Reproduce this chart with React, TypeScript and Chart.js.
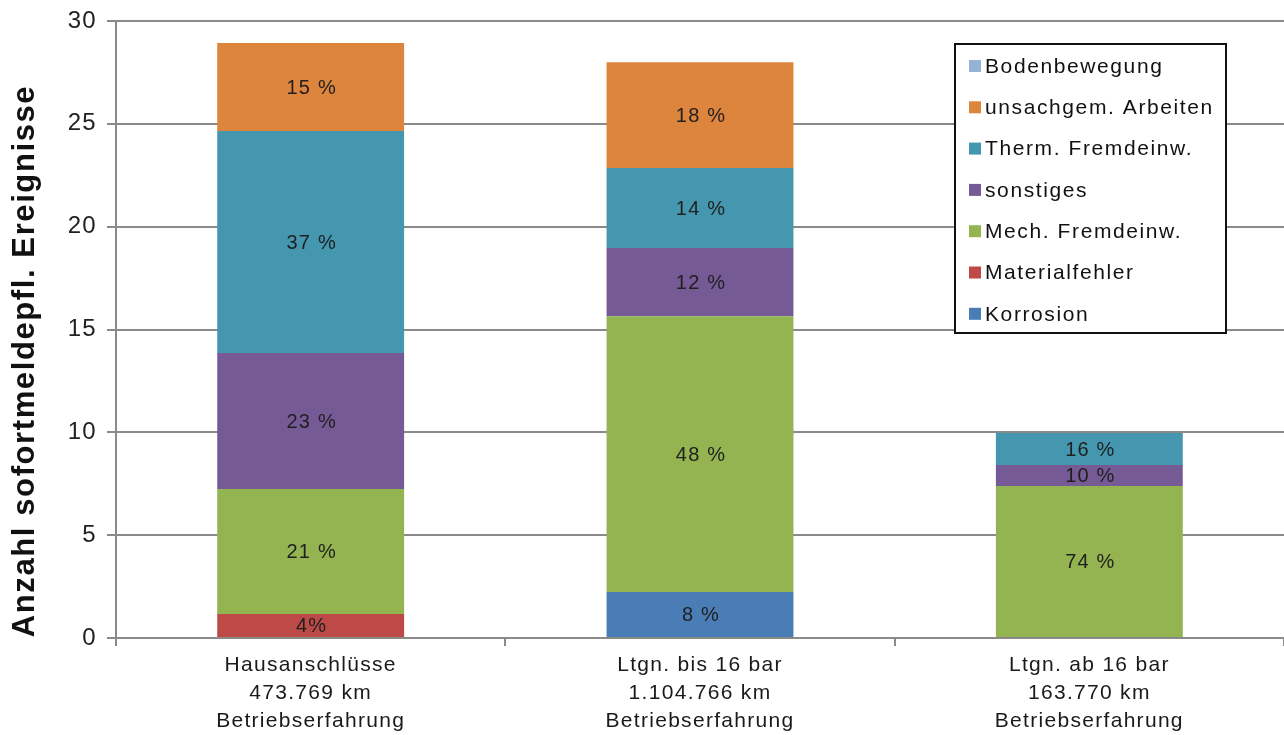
import React, { useEffect, useRef } from "react";
import { Chart, registerables } from "chart.js";

Chart.register(...registerables);

const categories: string[][] = [
  ["Hausanschlüsse", "473.769 km", "Betriebserfahrung"],
  ["Ltgn. bis 16 bar", "1.104.766 km", "Betriebserfahrung"],
  ["Ltgn. ab 16 bar", "163.770 km", "Betriebserfahrung"],
];

const korrosion = [0, 2.24, 0];
const materialfehler = [1.17, 0, 0];
const mechFremdeinw = [6.07, 13.41, 7.39];
const sonstiges = [6.62, 3.31, 1.02];
const thermFremdeinw = [10.79, 3.89, 1.56];
const unsachgemArbeiten = [4.28, 5.15, 0];
const bodenbewegung = [0, 0, 0];

const korrosionLabels = ["", "8 %", ""];
const materialfehlerLabels = ["4%", "", ""];
const mechLabels = ["21 %", "48 %", "74 %"];
const sonstigesLabels = ["23 %", "12 %", "10 %"];
const thermLabels = ["37 %", "14 %", "16 %"];
const unsachgemLabels = ["15 %", "18 %", ""];
const bodenLabels = ["", "", ""];

const yTicks = [0, 5, 10, 15, 20, 25, 30];
const yTitle = "Anzahl sofortmeldepfl. Ereignisse";

const FONT = "'Liberation Sans', Arial, sans-serif";

const spacingPlugin = {
  id: "spacing",
  beforeDraw(chart: any) {
    (chart.ctx as any).letterSpacing = "1.3px";
  },
};

const segmentLabelPlugin = {
  id: "segmentLabels",
  afterDatasetsDraw(chart: any) {
    const ctx = chart.ctx;
    ctx.save();
    (ctx as any).letterSpacing = "1.2px";
    ctx.font = `20px ${FONT}`;
    ctx.fillStyle = "#1f1f1f";
    ctx.textAlign = "center";
    ctx.textBaseline = "middle";
    chart.data.datasets.forEach((ds: any, i: number) => {
      const meta = chart.getDatasetMeta(i);
      meta.data.forEach((el: any, j: number) => {
        const lbl = ds.segLabels ? ds.segLabels[j] : "";
        if (!lbl) return;
        const y = (el.y + el.base) / 2;
        ctx.fillText(lbl, el.x + 1, y + 1);
      });
    });
    ctx.restore();
  },
};

const legendPlugin = {
  id: "boxLegend",
  afterDraw(chart: any) {
    const ctx = chart.ctx;
    const x0 = 955;
    const y0 = 44;
    const w = 271;
    const h = 289;
    ctx.save();
    ctx.fillStyle = "#ffffff";
    ctx.fillRect(x0, y0, w, h);
    ctx.strokeStyle = "#111111";
    ctx.lineWidth = 2;
    ctx.strokeRect(x0, y0, w, h);
    const items = chart.data.datasets.slice().reverse();
    (ctx as any).letterSpacing = "1.6px";
    ctx.font = `21px ${FONT}`;
    ctx.textBaseline = "middle";
    ctx.textAlign = "left";
    items.forEach((ds: any, k: number) => {
      const cy = y0 + 22 + k * 41.3;
      ctx.fillStyle = ds.backgroundColor;
      ctx.fillRect(x0 + 14, cy - 6, 12, 12);
      ctx.fillStyle = "#111111";
      ctx.fillText(ds.label, x0 + 30, cy + 1);
    });
    ctx.restore();
  },
};

const yTitlePlugin = {
  id: "yTitle",
  afterDraw(chart: any) {
    const ctx = chart.ctx;
    ctx.save();
    (ctx as any).letterSpacing = "1.6px";
    ctx.translate(25, 361);
    ctx.rotate(-Math.PI / 2);
    ctx.font = `bold 31px ${FONT}`;
    ctx.fillStyle = "#111111";
    ctx.textAlign = "center";
    ctx.textBaseline = "middle";
    ctx.fillText(yTitle, 0, 0);
    ctx.restore();
  },
};

export default function App() {
  const canvasRef = useRef<HTMLCanvasElement | null>(null);

  useEffect(() => {
    document.body.style.margin = "0";
    const canvas = canvasRef.current;
    if (!canvas) return;
    const mk = (label: string, data: number[], color: string, segLabels: string[]) => ({
      label,
      data,
      backgroundColor: color,
      borderWidth: 0,
      segLabels,
      categoryPercentage: 1,
      barPercentage: 0.48,
    });
    const chart = new Chart(canvas, {
      type: "bar",
      data: {
        labels: categories,
        datasets: [
          mk("Korrosion", korrosion, "#4a7db6", korrosionLabels),
          mk("Materialfehler", materialfehler, "#bd4a47", materialfehlerLabels),
          mk("Mech. Fremdeinw.", mechFremdeinw, "#93b451", mechLabels),
          mk("sonstiges", sonstiges, "#765a95", sonstigesLabels),
          mk("Therm. Fremdeinw.", thermFremdeinw, "#4497af", thermLabels),
          mk("unsachgem. Arbeiten", unsachgemArbeiten, "#dd853d", unsachgemLabels),
          mk("Bodenbewegung", bodenbewegung, "#95b3d7", bodenLabels),
        ] as any,
      },
      options: {
        animation: false,
        responsive: true,
        maintainAspectRatio: false,
        layout: { padding: { top: 21, right: 0, left: 0, bottom: 0 } },
        plugins: {
          legend: { display: false },
          tooltip: { enabled: false },
        },
        scales: {
          x: {
            stacked: true,
            grid: {
              display: true,
              offset: true,
              drawOnChartArea: false,
              drawTicks: true,
              tickLength: 8,
              color: "#8a8a8a",
              lineWidth: 2,
            },
            border: { display: true, color: "#8a8a8a", width: 2 },
            ticks: {
              font: { family: FONT, size: 21, lineHeight: 1.33 },
              color: "#1a1a1a",
              padding: 5,
              maxRotation: 0,
            },
            afterFit(scale: any) {
              scale.height = 97;
              scale.paddingLeft = 0;
              scale.paddingRight = 0;
            },
          },
          y: {
            stacked: true,
            min: 0,
            max: 30,
            afterBuildTicks(scale: any) {
              scale.ticks = yTicks.map((v) => ({ value: v }));
            },
            ticks: {
              font: { family: FONT, size: 24 },
              color: "#222222",
              padding: 10,
            },
            grid: {
              color: "#8a8a8a",
              lineWidth: 2,
              tickLength: 9,
            },
            border: { display: true, color: "#8a8a8a", width: 2 },
            afterFit(scale: any) {
              scale.width = 116;
              scale.paddingTop = 0;
              scale.paddingBottom = 0;
            },
          },
        },
      },
      plugins: [spacingPlugin, segmentLabelPlugin, legendPlugin, yTitlePlugin],
    });
    return () => chart.destroy();
  }, []);

  return (
    <div style={{ position: "absolute", left: 0, top: 0, width: 1284, height: 735, background: "#fff" }}>
      <canvas ref={canvasRef} />
    </div>
  );
}
